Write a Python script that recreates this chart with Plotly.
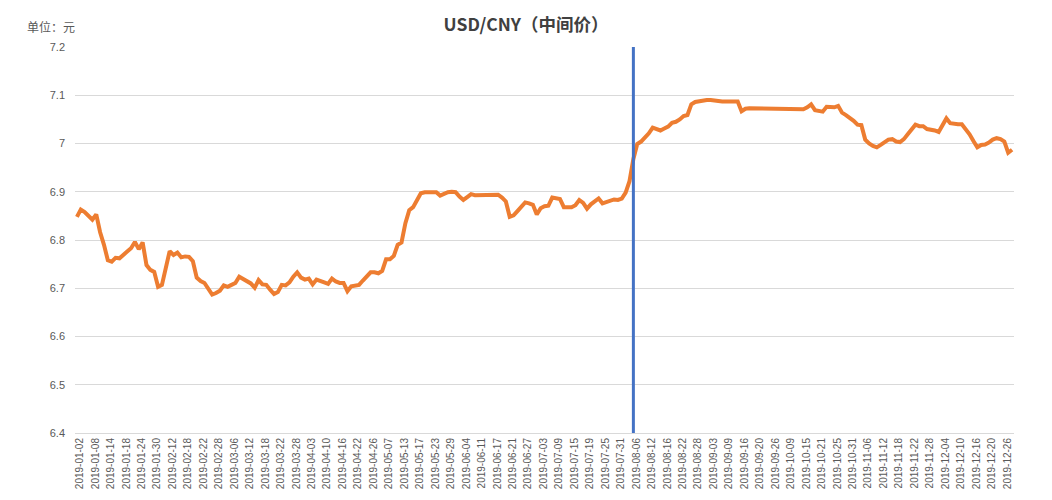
import pandas as pd
import plotly.graph_objects as go

# ---- data -------------------------------------------------------------
START, END = "2019-01-02", "2019-12-30"
HOLIDAYS = ["2019-02-04", "2019-02-05", "2019-02-06", "2019-02-07", "2019-02-08",
            "2019-04-05", "2019-05-01", "2019-05-02", "2019-05-03", "2019-06-07",
            "2019-09-13", "2019-10-01", "2019-10-02", "2019-10-03", "2019-10-04",
            "2019-10-07"]
DATES = [d.strftime("%Y-%m-%d") for d in pd.bdate_range(START, END)
         if d.strftime("%Y-%m-%d") not in HOLIDAYS]

JAN = [6.848, 6.863, 6.858, 6.850, 6.842, 6.853, 6.816, 6.790, 6.758, 6.755, 6.763,
       6.762, 6.768, 6.776, 6.783, 6.796, 6.781, 6.795, 6.748, 6.738, 6.734, 6.703]
FEB = [6.707, 6.745, 6.777, 6.769, 6.774, 6.764, 6.766, 6.765, 6.756, 6.722, 6.715,
       6.711, 6.698, 6.687, 6.690]
MAR = [6.695, 6.706, 6.703, 6.707, 6.711, 6.724, 6.719, 6.713, 6.710, 6.701, 6.717,
       6.708, 6.707, 6.697, 6.688, 6.692, 6.707, 6.706, 6.712, 6.724, 6.733]
APR = [6.722, 6.718, 6.720, 6.708, 6.718, 6.716, 6.712, 6.709, 6.720, 6.714, 6.711,
       6.711, 6.694, 6.704, 6.705, 6.707, 6.716, 6.724, 6.733, 6.733, 6.731]
MAY = [6.736, 6.760, 6.760, 6.767, 6.790, 6.795, 6.835, 6.862, 6.868, 6.882, 6.897,
       6.899, 6.899, 6.899, 6.899, 6.892, 6.896, 6.899, 6.900, 6.899]
JUN = [6.890, 6.883, 6.889, 6.895, 6.893, 6.893, 6.893, 6.893, 6.893, 6.894, 6.894,
       6.888, 6.880, 6.848, 6.851, 6.860, 6.870, 6.878, 6.876]
JUL = [6.873, 6.853, 6.866, 6.870, 6.871, 6.888, 6.886, 6.885, 6.868, 6.867, 6.868,
       6.872, 6.883, 6.877, 6.865, 6.874, 6.880, 6.886, 6.876, 6.879, 6.882, 6.884, 6.883]
AUG = [6.886, 6.898, 6.922, 6.968, 6.999, 7.004, 7.012, 7.021, 7.033, 7.031, 7.027,
       7.031, 7.035, 7.043, 7.045, 7.050, 7.057, 7.059, 7.081, 7.086, 7.088, 7.089]
SEP = [7.090, 7.090, 7.090, 7.088, 7.087, 7.087, 7.087, 7.087, 7.087, 7.067, 7.072,
       7.073, 7.073, 7.073, 7.073, 7.073, 7.072, 7.073, 7.073, 7.073]
OCT = [7.073, 7.073, 7.073, 7.073, 7.072, 7.071, 7.075, 7.081, 7.069, 7.068, 7.066,
       7.076, 7.075, 7.075, 7.078, 7.064, 7.059, 7.054]
NOV = [7.047, 7.039, 7.038, 7.008, 7.000, 6.995, 6.992, 6.997, 7.002, 7.008, 7.009,
       7.004, 7.003, 7.009, 7.019, 7.030, 7.039, 7.036, 7.036, 7.030, 7.029]
DEC = [7.027, 7.024, 7.038, 7.052, 7.042, 7.040, 7.040, 7.040, 7.030, 7.019, 7.005,
       6.992, 6.997, 6.998, 7.002, 7.008, 7.011, 7.009, 7.004, 6.981, 6.987]
VALUES = JAN + FEB + MAR + APR + MAY + JUN + JUL + AUG + SEP + OCT + NOV + DEC

MARK_DATE = "2019-08-06"
Y_RANGE = [6.4, 7.2]
Y_TICKS = [6.4, 6.5, 6.6, 6.7, 6.8, 6.9, 7.0, 7.1, 7.2]
Y_TICK_TEXT = ["6.4", "6.5", "6.6", "6.7", "6.8", "6.9", "7", "7.1", "7.2"]
X_TICKS = DATES[::4]

TITLE = "USD/CNY（中间价）"
UNIT = "单位：元"

assert len(VALUES) == len(DATES)

# ---- figure -----------------------------------------------------------
GREY = "#595959"
GRID = "#D9D9D9"
FONT = "Noto Sans CJK SC"
W, H = 1036, 484   # page body adds an 8px margin on the top/left

fig = go.Figure()
fig.add_trace(go.Scatter(x=DATES, y=VALUES, mode="lines",
                         line=dict(color="#ED7D31", width=4), showlegend=False))
fig.add_trace(go.Scatter(x=[MARK_DATE, MARK_DATE], y=Y_RANGE, mode="lines",
                         line=dict(color="#4472C4", width=3), showlegend=False))

fig.update_layout(
    width=W, height=H,
    margin=dict(l=67, r=30, t=39, b=59),
    paper_bgcolor="white", plot_bgcolor="white",
    font=dict(family=FONT, color=GREY),
    title=dict(text="<b>" + TITLE + "</b>", x=518 / W, xref="container", xanchor="center",
               y=1 - 17 / H, yref="container", yanchor="middle",
               font=dict(size=17.5, color="#404040", family=FONT)),
    annotations=[dict(text=UNIT, xref="paper", yref="paper", x=-0.053, y=1.052,
                      xanchor="left", yanchor="middle", showarrow=False,
                      font=dict(size=12, color=GREY, family=FONT))],
)
fig.update_xaxes(type="category", categoryorder="array", categoryarray=DATES,
                 range=[-0.5, len(DATES) - 0.5],
                 tickmode="array", tickvals=X_TICKS, ticktext=X_TICKS,
                 tickangle=-90, tickfont=dict(size=10, color=GREY, family="Liberation Sans"),
                 ticklabelshift=3,
                 showgrid=False, showline=True, linecolor=GRID, linewidth=1,
                 ticks="", automargin=False, zeroline=False)
fig.update_yaxes(range=Y_RANGE, tickmode="array", tickvals=Y_TICKS, ticktext=Y_TICK_TEXT,
                 tickfont=dict(size=11, color=GREY, family="Liberation Sans"),
                 showgrid=True, gridcolor=GRID, gridwidth=1, zeroline=False,
                 showline=False, ticks="", ticklabelstandoff=9, automargin=False)

fig.write_html("out.html")
